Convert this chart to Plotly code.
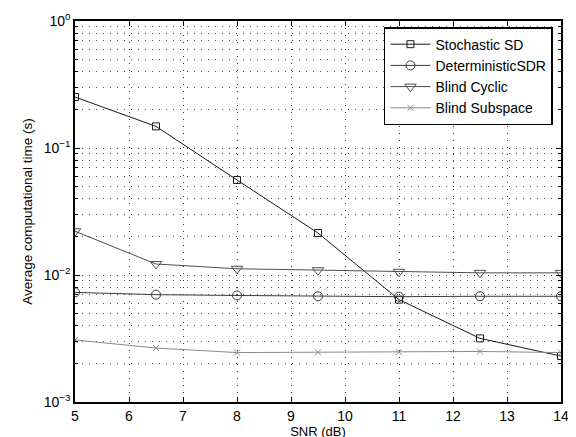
import plotly.graph_objects as go

snr = [5, 6.5, 8, 9.5, 11, 12.5, 14]
stochastic_sd = [0.252, 0.148, 0.056, 0.0214, 0.0064, 0.00317, 0.0023]
deterministic_sdr = [0.0073, 0.0070, 0.0069, 0.0068, 0.00675, 0.0068, 0.0068]
blind_cyclic = [0.0221, 0.0122, 0.0112, 0.0109, 0.0106, 0.0104, 0.0104]
blind_subspace = [0.00308, 0.00266, 0.00245, 0.00246, 0.00247, 0.0025, 0.00245]

series = [
    ("Stochastic SD", stochastic_sd, "square-open", "#1a1a1a", 7),
    ("DeterministicSDR", deterministic_sdr, "circle-open", "#3a3a3a", 9),
    ("Blind Cyclic", blind_cyclic, "triangle-down-open", "#4d4d4d", 10),
    ("Blind Subspace", blind_subspace, "x-thin-open", "#8a8a8a", 6),
]

y_tickvals = [1e-3, 1e-2, 1e-1, 1]
y_ticktext = ["10<sup>−3</sup>", "10<sup>−2</sup>", "10<sup>−1</sup>", "10<sup>0</sup>"]
x_ticks = list(range(5, 15))
minor_y = [m * 10 ** e for e in (-3, -2, -1) for m in range(2, 10)]

fig = go.Figure()
for name, vals, sym, col, sz in series:
    fig.add_trace(go.Scatter(
        x=snr, y=vals, name=name, mode="lines+markers",
        line=dict(color=col, width=1),
        marker=dict(symbol=sym, size=sz, color=col, line=dict(color=col, width=1)),
    ))

font = "Liberation Sans, Arial, sans-serif"
grid_dash = "1px,6px"
fig.update_layout(
    width=576, height=437,
    margin=dict(l=67, r=23, t=13, b=43, autoexpand=False),
    paper_bgcolor="white", plot_bgcolor="white",
    font=dict(family=font, size=14, color="black"),
    showlegend=True,
    legend=dict(
        x=0.9835, y=0.984, xanchor="right", yanchor="top",
        bgcolor="white", bordercolor="black", borderwidth=1.5,
        font=dict(size=14), tracegroupgap=0, itemwidth=40,
    ),
    xaxis=dict(
        range=[5, 14], tickvals=x_ticks, ticktext=[str(v) for v in x_ticks],
        showline=True, linecolor="black", linewidth=1.5, mirror="ticks",
        ticks="inside", ticklen=5, tickcolor="black", automargin=False,
        showgrid=True, gridcolor="#333", griddash=grid_dash, gridwidth=1,
        zeroline=False, tickfont=dict(size=14),
        title=dict(text="SNR (dB)", standoff=0, font=dict(size=13)),
    ),
    yaxis=dict(
        type="log", range=[-3, 0], tickvals=y_tickvals, ticktext=y_ticktext,
        showline=True, linecolor="black", linewidth=1.5, mirror="ticks",
        ticks="inside", ticklen=5, tickcolor="black", automargin=False,
        showgrid=True, gridcolor="#333", griddash=grid_dash, gridwidth=1,
        zeroline=False, tickfont=dict(size=14),
        minor=dict(tickvals=minor_y, ticks="inside", ticklen=3, tickcolor="black",
                   showgrid=True, gridcolor="#555", griddash=grid_dash, gridwidth=1),
        title=dict(text="Average computational time (s)", standoff=8, font=dict(size=13.5)),
    ),
)

fig.write_html("out.html")
